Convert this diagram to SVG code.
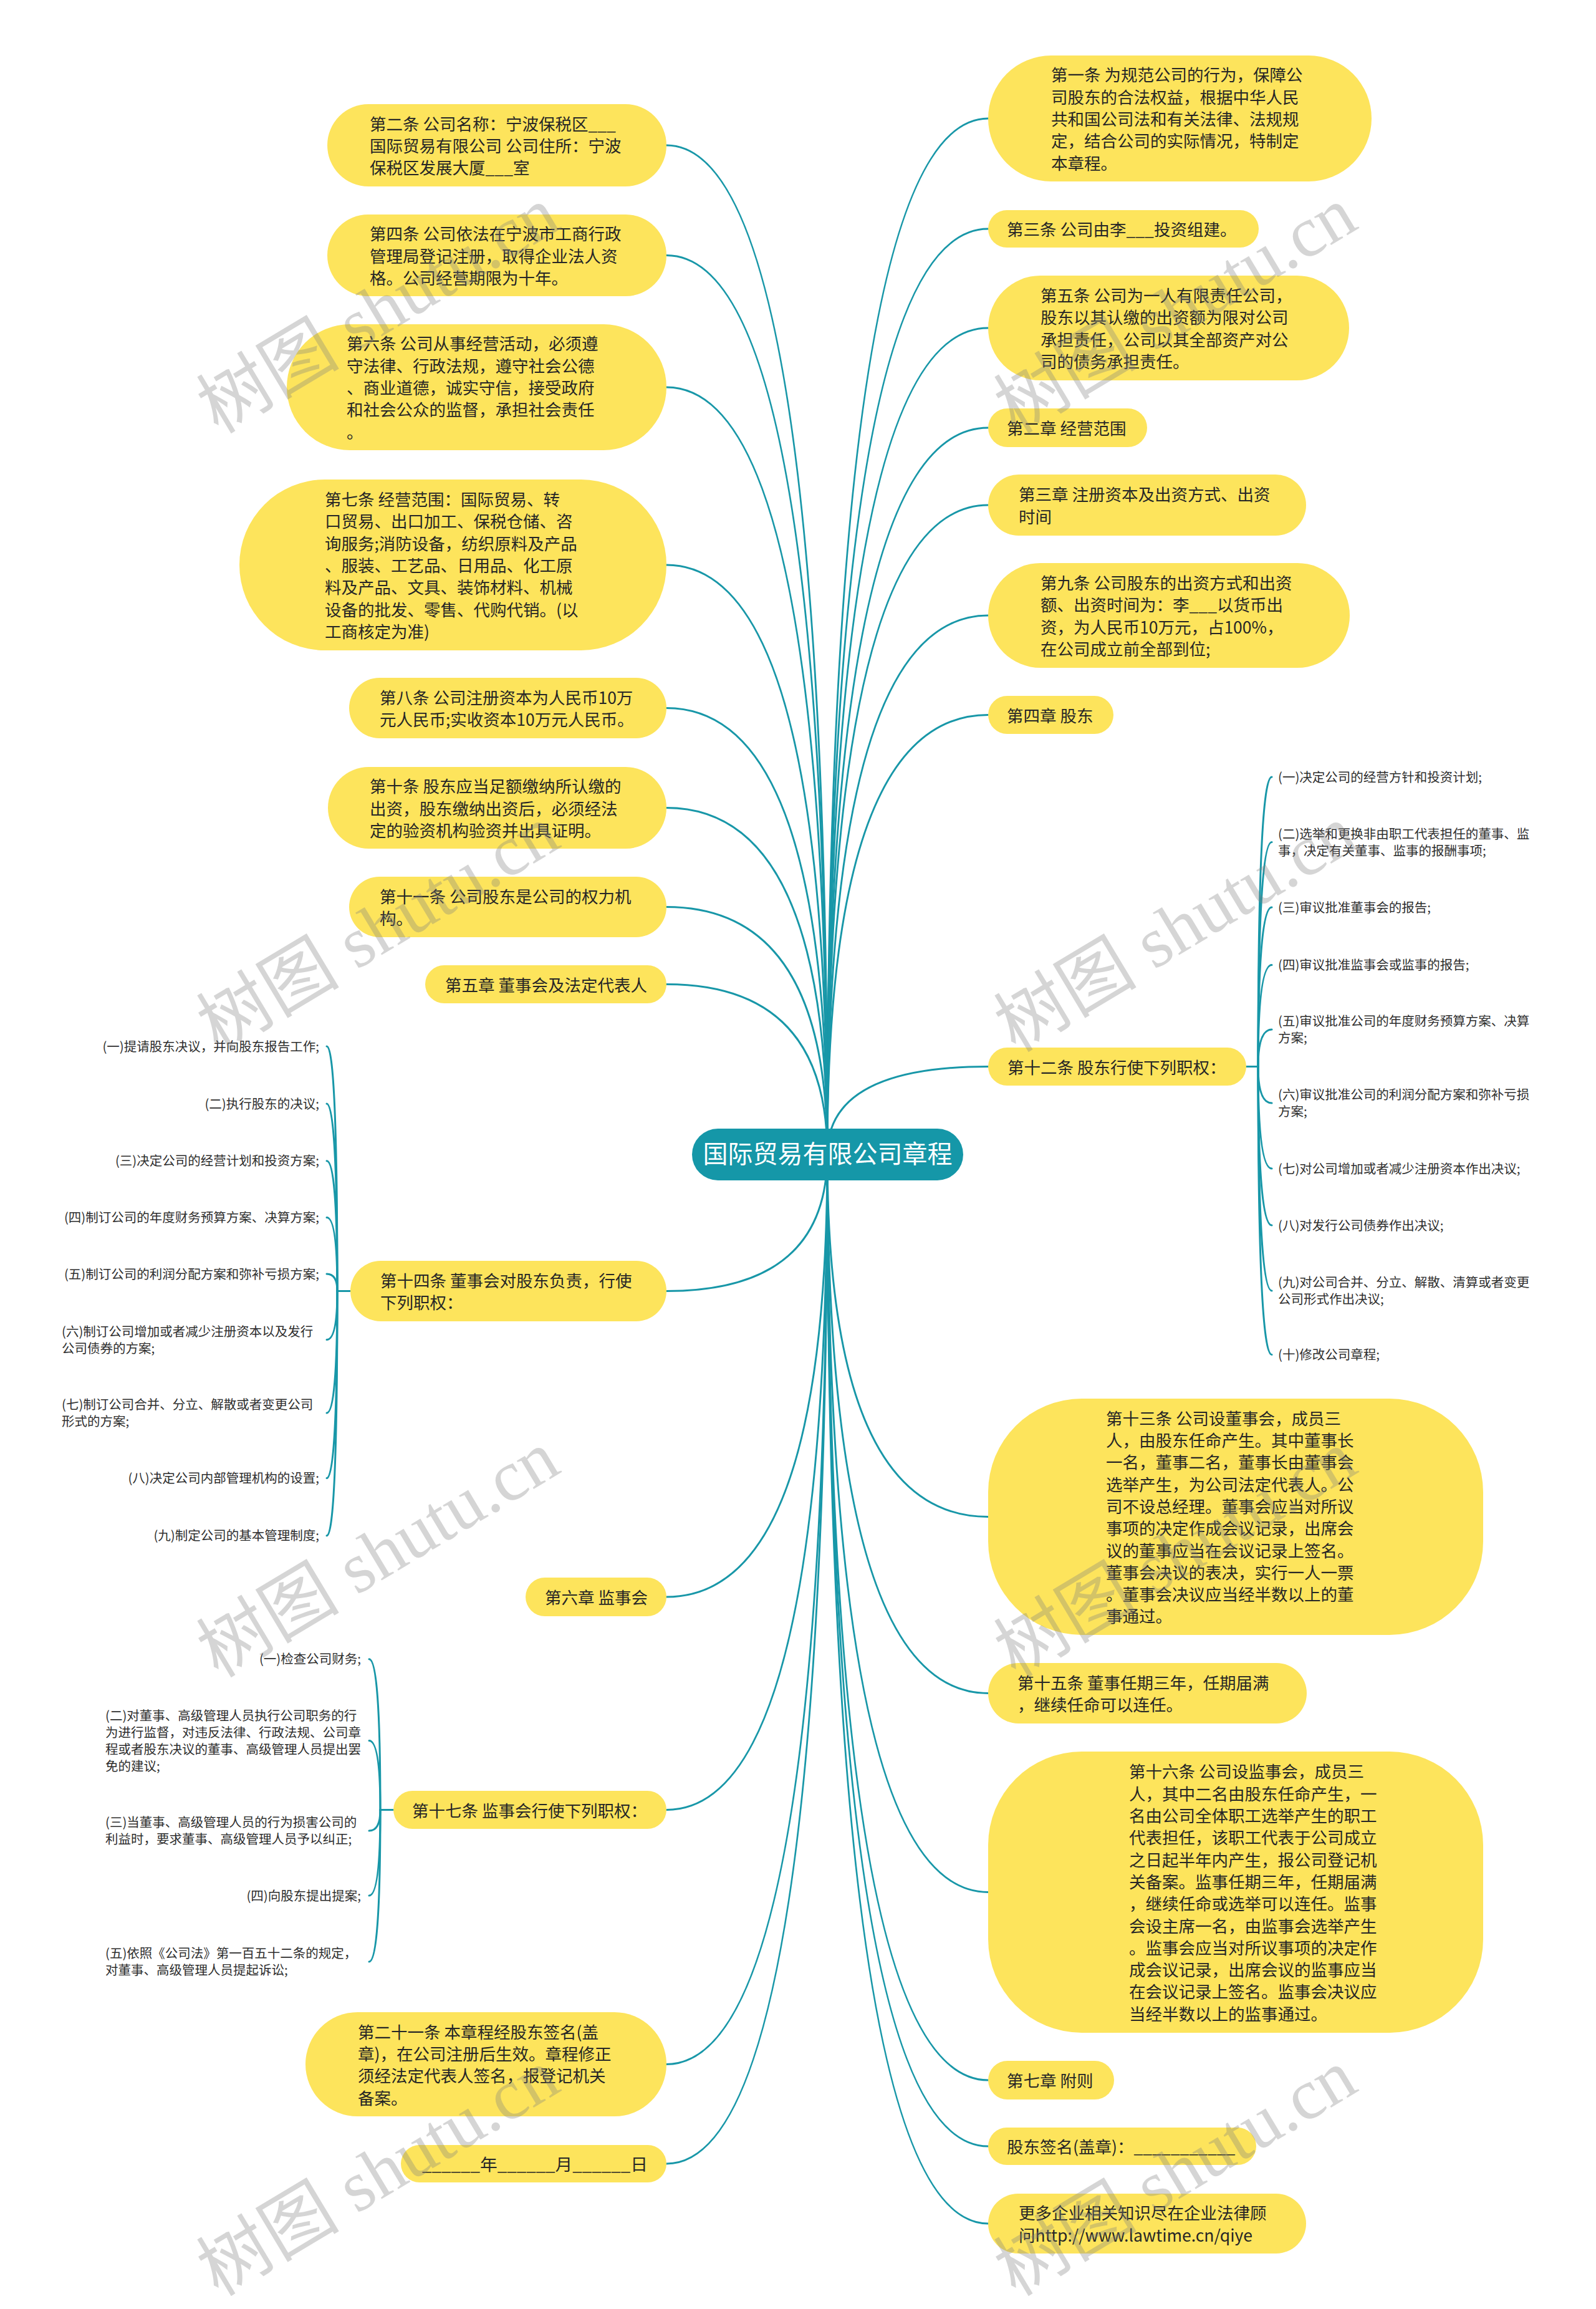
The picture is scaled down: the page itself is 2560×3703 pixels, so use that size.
<svg xmlns="http://www.w3.org/2000/svg" width="2560" height="3703" viewBox="0 0 2560 3703">
<style>
.bg{fill:#ffffff}
.node rect{fill:#fde45c}
.t{font-family:"Noto Sans CJK SC","Noto Sans",sans-serif;font-size:26.5px;fill:#262626}
.lf{font-family:"Noto Sans CJK SC","Noto Sans",sans-serif;font-size:20.5px;fill:#2e2e2e}
.lfe{text-anchor:end}
.root rect{fill:#1597a8}
.root text{font-family:"Noto Sans CJK SC","Noto Sans",sans-serif;font-size:40px;fill:#ffffff;text-anchor:middle}
.conn path{fill:none;stroke:#1897a8;stroke-width:3;stroke-linecap:round}
.wm{font-size:115px;fill:#7f7f7f;fill-opacity:0.33}
.wm .c{font-family:"Noto Sans CJK SC",sans-serif}
.wm .s{font-family:"Liberation Serif",serif}
</style>
<rect class="bg" x="0" y="0" width="2560" height="3703"/>

<g id="connectors" class="conn">
<path d="M1327 1851 Q1327 190 1585 190"/>
<path d="M1327 1851 Q1327 367 1585 367"/>
<path d="M1327 1851 Q1327 526 1585 526"/>
<path d="M1327 1851 Q1327 686 1585 686"/>
<path d="M1327 1851 Q1327 810 1585 810"/>
<path d="M1327 1851 Q1327 987 1585 987"/>
<path d="M1327 1851 Q1327 1146.5 1585 1146.5"/>
<path d="M1327 1851 Q1327 1710.5 1585 1710.5"/>
<path d="M1327 1851 Q1327 2432.5 1585 2432.5"/>
<path d="M1327 1851 Q1327 2715.5 1585 2715.5"/>
<path d="M1327 1851 Q1327 3034.5 1585 3034.5"/>
<path d="M1327 1851 Q1327 3336 1585 3336"/>
<path d="M1327 1851 Q1327 3442 1585 3442"/>
<path d="M1327 1851 Q1327 3566 1585 3566"/>
<path d="M1327 1851 Q1327 233 1069 233"/>
<path d="M1327 1851 Q1327 409.5 1069 409.5"/>
<path d="M1327 1851 Q1327 621 1069 621"/>
<path d="M1327 1851 Q1327 906 1069 906"/>
<path d="M1327 1851 Q1327 1135.5 1069 1135.5"/>
<path d="M1327 1851 Q1327 1295.5 1069 1295.5"/>
<path d="M1327 1851 Q1327 1454.5 1069 1454.5"/>
<path d="M1327 1851 Q1327 1578.5 1069 1578.5"/>
<path d="M1327 1851 Q1327 2070.5 1069 2070.5"/>
<path d="M1327 1851 Q1327 2561 1069 2561"/>
<path d="M1327 1851 Q1327 2902.5 1069 2902.5"/>
<path d="M1327 1851 Q1327 3310.5 1069 3310.5"/>
<path d="M1327 1851 Q1327 3470 1069 3470"/>
<path d="M1999 1710.5 H2018"/>
<path d="M2018 1710.5 Q2018 1246 2040 1246"/>
<path d="M2018 1710.5 Q2018 1350.5 2040 1350.5"/>
<path d="M2018 1710.5 Q2018 1455 2040 1455"/>
<path d="M2018 1710.5 Q2018 1547.6 2040 1547.6"/>
<path d="M2018 1710.5 Q2018 1651 2040 1651"/>
<path d="M2018 1710.5 Q2018 1769 2040 1769"/>
<path d="M2018 1710.5 Q2018 1874 2040 1874"/>
<path d="M2018 1710.5 Q2018 1965 2040 1965"/>
<path d="M2018 1710.5 Q2018 2070 2040 2070"/>
<path d="M2018 1710.5 Q2018 2172.6 2040 2172.6"/>
<path d="M562 2070.5 H541"/>
<path d="M541 2070.5 Q541 1678 524 1678"/>
<path d="M541 2070.5 Q541 1770 524 1770"/>
<path d="M541 2070.5 Q541 1861.7 524 1861.7"/>
<path d="M541 2070.5 Q541 1952.6 524 1952.6"/>
<path d="M541 2070.5 Q541 2043 524 2043"/>
<path d="M541 2070.5 Q541 2148.6 524 2148.6"/>
<path d="M541 2070.5 Q541 2266 524 2266"/>
<path d="M541 2070.5 Q541 2370.6 524 2370.6"/>
<path d="M541 2070.5 Q541 2462.7 524 2462.7"/>
<path d="M631 2902.5 H610"/>
<path d="M610 2902.5 Q610 2660.8 592 2660.8"/>
<path d="M610 2902.5 Q610 2791.6 592 2791.6"/>
<path d="M610 2902.5 Q610 2936 592 2936"/>
<path d="M610 2902.5 Q610 3040 592 3040"/>
<path d="M610 2902.5 Q610 3146 592 3146"/>
</g>

<g id="root" class="root">
<rect x="1110" y="1810" width="435" height="83" rx="41.5"/>
<text x="1327.5" y="1865">国际贸易有限公司章程</text>
</g>

<g id="r1" class="node"><rect x="1585" y="89" width="615" height="202" rx="101"/>
<text class="t"><tspan x="1686" y="130.4">第一条 为规范公司的行为，保障公</tspan><tspan x="1686" y="165.7">司股东的合法权益，根据中华人民</tspan><tspan x="1686" y="201">共和国公司法和有关法律、法规规</tspan><tspan x="1686" y="236.3">定，结合公司的实际情况，特制定</tspan><tspan x="1686" y="271.6">本章程。</tspan></text></g>
<g id="r2" class="node"><rect x="1585" y="337" width="434" height="60" rx="30"/>
<text class="t"><tspan x="1615" y="378">第三条 公司由李___投资组建。</tspan></text></g>
<g id="r3" class="node"><rect x="1585" y="442" width="579" height="168" rx="84"/>
<text class="t"><tspan x="1669" y="484">第五条 公司为一人有限责任公司，</tspan><tspan x="1669" y="519.4">股东以其认缴的出资额为限对公司</tspan><tspan x="1669" y="554.7">承担责任，公司以其全部资产对公</tspan><tspan x="1669" y="590">司的债务承担责任。</tspan></text></g>
<g id="r4" class="node"><rect x="1585" y="655" width="255" height="62" rx="31"/>
<text class="t"><tspan x="1615" y="697">第二章 经营范围</tspan></text></g>
<g id="r5" class="node"><rect x="1585" y="761" width="510" height="98" rx="49"/>
<text class="t"><tspan x="1634" y="803.4">第三章 注册资本及出资方式、出资</tspan><tspan x="1634" y="838.7">时间</tspan></text></g>
<g id="r6" class="node"><rect x="1585" y="903" width="580" height="168" rx="84"/>
<text class="t"><tspan x="1669" y="945">第九条 公司股东的出资方式和出资</tspan><tspan x="1669" y="980.4">额、出资时间为：李___以货币出</tspan><tspan x="1669" y="1015.7">资，为人民币10万元，占100%，</tspan><tspan x="1669" y="1051">在公司成立前全部到位;</tspan></text></g>
<g id="r7" class="node"><rect x="1585" y="1116" width="201" height="61" rx="30.5"/>
<text class="t"><tspan x="1615" y="1157.5">第四章 股东</tspan></text></g>
<g id="r8" class="node"><rect x="1585" y="1680" width="414" height="61" rx="30.5"/>
<text class="t"><tspan x="1616" y="1721.5">第十二条 股东行使下列职权：</tspan></text></g>
<g id="r9" class="node"><rect x="1585" y="2243" width="794" height="379" rx="150"/>
<text class="t"><tspan x="1774" y="2284.7">第十三条  公司设董事会，成员三</tspan><tspan x="1774" y="2320">人，由股东任命产生。其中董事长</tspan><tspan x="1774" y="2355.3">一名，董事二名，董事长由董事会</tspan><tspan x="1774" y="2390.6">选举产生，为公司法定代表人。公</tspan><tspan x="1774" y="2425.9">司不设总经理。董事会应当对所议</tspan><tspan x="1774" y="2461.2">事项的决定作成会议记录，出席会</tspan><tspan x="1774" y="2496.5">议的董事应当在会议记录上签名。</tspan><tspan x="1774" y="2531.8">董事会决议的表决，实行一人一票</tspan><tspan x="1774" y="2567.1">。董事会决议应当经半数以上的董</tspan><tspan x="1774" y="2602.4">事通过。</tspan></text></g>
<g id="r10" class="node"><rect x="1585" y="2667" width="511" height="97" rx="48.5"/>
<text class="t"><tspan x="1632" y="2708.9">第十五条 董事任期三年，任期届满</tspan><tspan x="1632" y="2744.2">，继续任命可以连任。</tspan></text></g>
<g id="r11" class="node"><rect x="1585" y="2809" width="794" height="451" rx="150"/>
<text class="t"><tspan x="1811" y="2851.4">第十六条  公司设监事会，成员三</tspan><tspan x="1811" y="2886.7">人，其中二名由股东任命产生，一</tspan><tspan x="1811" y="2922">名由公司全体职工选举产生的职工</tspan><tspan x="1811" y="2957.3">代表担任，该职工代表于公司成立</tspan><tspan x="1811" y="2992.6">之日起半年内产生，报公司登记机</tspan><tspan x="1811" y="3027.9">关备案。监事任期三年，任期届满</tspan><tspan x="1811" y="3063.2">，继续任命或选举可以连任。监事</tspan><tspan x="1811" y="3098.5">会设主席一名，由监事会选举产生</tspan><tspan x="1811" y="3133.8">。监事会应当对所议事项的决定作</tspan><tspan x="1811" y="3169.1">成会议记录，出席会议的监事应当</tspan><tspan x="1811" y="3204.4">在会议记录上签名。监事会决议应</tspan><tspan x="1811" y="3239.7">当经半数以上的监事通过。</tspan></text></g>
<g id="r12" class="node"><rect x="1585" y="3305" width="202" height="62" rx="31"/>
<text class="t"><tspan x="1615" y="3347">第七章 附则</tspan></text></g>
<g id="r13" class="node"><rect x="1585" y="3412" width="430" height="60" rx="30"/>
<text class="t"><tspan x="1615" y="3453">股东签名(盖章)：___________</tspan></text></g>
<g id="r14" class="node"><rect x="1585" y="3518" width="510" height="96" rx="48"/>
<text class="t"><tspan x="1634" y="3559.4">更多企业相关知识尽在企业法律顾</tspan><tspan x="1634" y="3594.7">问http://www.lawtime.cn/qiye</tspan></text></g>

<g id="l1" class="node"><rect x="525" y="167" width="544" height="132" rx="66"/>
<text class="t"><tspan x="593" y="208.7">第二条 公司名称：宁波保税区___</tspan><tspan x="593" y="244">国际贸易有限公司 公司住所：宁波</tspan><tspan x="593" y="279.3">保税区发展大厦___室</tspan></text></g>
<g id="l2" class="node"><rect x="525" y="344" width="544" height="131" rx="65.5"/>
<text class="t"><tspan x="593" y="385.2">第四条 公司依法在宁波市工商行政</tspan><tspan x="593" y="420.5">管理局登记注册，取得企业法人资</tspan><tspan x="593" y="455.8">格。公司经营期限为十年。</tspan></text></g>
<g id="l3" class="node"><rect x="460" y="520" width="609" height="202" rx="101"/>
<text class="t"><tspan x="556" y="561.4">第六条 公司从事经营活动，必须遵</tspan><tspan x="556" y="596.7">守法律、行政法规，遵守社会公德</tspan><tspan x="556" y="632">、商业道德，诚实守信，接受政府</tspan><tspan x="556" y="667.3">和社会公众的监督，承担社会责任</tspan><tspan x="556" y="702.6">。</tspan></text></g>
<g id="l4" class="node"><rect x="384" y="769" width="685" height="274" rx="137"/>
<text class="t"><tspan x="521" y="811.1">第七条  经营范围：国际贸易、转</tspan><tspan x="521" y="846.4">口贸易、出口加工、保税仓储、咨</tspan><tspan x="521" y="881.7">询服务;消防设备，纺织原料及产品</tspan><tspan x="521" y="917">、服装、工艺品、日用品、化工原</tspan><tspan x="521" y="952.3">料及产品、文具、装饰材料、机械</tspan><tspan x="521" y="987.6">设备的批发、零售、代购代销。(以</tspan><tspan x="521" y="1022.9">工商核定为准)</tspan></text></g>
<g id="l5" class="node"><rect x="560" y="1087" width="509" height="97" rx="48.5"/>
<text class="t"><tspan x="609" y="1128.9">第八条 公司注册资本为人民币10万</tspan><tspan x="609" y="1164.2">元人民币;实收资本10万元人民币。</tspan></text></g>
<g id="l6" class="node"><rect x="526" y="1230" width="543" height="131" rx="65.5"/>
<text class="t"><tspan x="593" y="1271.2">第十条 股东应当足额缴纳所认缴的</tspan><tspan x="593" y="1306.5">出资，股东缴纳出资后，必须经法</tspan><tspan x="593" y="1341.8">定的验资机构验资并出具证明。</tspan></text></g>
<g id="l7" class="node"><rect x="560" y="1406" width="509" height="97" rx="48.5"/>
<text class="t"><tspan x="609" y="1447.9">第十一条 公司股东是公司的权力机</tspan><tspan x="609" y="1483.2">构。</tspan></text></g>
<g id="l8" class="node"><rect x="682" y="1548" width="387" height="61" rx="30.5"/>
<text class="t"><tspan x="714" y="1589.5">第五章 董事会及法定代表人</tspan></text></g>
<g id="l9" class="node"><rect x="562" y="2022" width="507" height="97" rx="48.5"/>
<text class="t"><tspan x="610" y="2063.9">第十四条 董事会对股东负责，行使</tspan><tspan x="610" y="2099.2">下列职权：</tspan></text></g>
<g id="l10" class="node"><rect x="843" y="2530" width="226" height="62" rx="31"/>
<text class="t"><tspan x="874" y="2572">第六章 监事会</tspan></text></g>
<g id="l11" class="node"><rect x="631" y="2872" width="438" height="61" rx="30.5"/>
<text class="t"><tspan x="661" y="2913.5">第十七条 监事会行使下列职权：</tspan></text></g>
<g id="l12" class="node"><rect x="490" y="3227" width="579" height="167" rx="83.5"/>
<text class="t"><tspan x="574" y="3268.6">第二十一条 本章程经股东签名(盖</tspan><tspan x="574" y="3303.9">章)，在公司注册后生效。章程修正</tspan><tspan x="574" y="3339.2">须经法定代表人签名，报登记机关</tspan><tspan x="574" y="3374.5">备案。</tspan></text></g>
<g id="l13" class="node"><rect x="643" y="3440" width="426" height="60" rx="30"/>
<text class="t" x="677" y="3481" textLength="362" lengthAdjust="spacingAndGlyphs">______年______月______日</text></g>

<g id="r8-leaves">
<text id="r8a" class="lf"><tspan x="2050" y="1253.5">(一)决定公司的经营方针和投资计划;</tspan></text>
<text id="r8b" class="lf"><tspan x="2050" y="1344.5">(二)选举和更换非由职工代表担任的董事、监</tspan><tspan x="2050" y="1371.5">事，决定有关董事、监事的报酬事项;</tspan></text>
<text id="r8c" class="lf"><tspan x="2050" y="1462.5">(三)审议批准董事会的报告;</tspan></text>
<text id="r8d" class="lf"><tspan x="2050" y="1555">(四)审议批准监事会或监事的报告;</tspan></text>
<text id="r8e" class="lf"><tspan x="2050" y="1645">(五)审议批准公司的年度财务预算方案、决算</tspan><tspan x="2050" y="1672">方案;</tspan></text>
<text id="r8f" class="lf"><tspan x="2050" y="1763">(六)审议批准公司的利润分配方案和弥补亏损</tspan><tspan x="2050" y="1790">方案;</tspan></text>
<text id="r8g" class="lf"><tspan x="2050" y="1881.5">(七)对公司增加或者减少注册资本作出决议;</tspan></text>
<text id="r8h" class="lf"><tspan x="2050" y="1972.5">(八)对发行公司债券作出决议;</tspan></text>
<text id="r8i" class="lf"><tspan x="2050" y="2064">(九)对公司合并、分立、解散、清算或者变更</tspan><tspan x="2050" y="2091">公司形式作出决议;</tspan></text>
<text id="r8j" class="lf"><tspan x="2050" y="2180">(十)修改公司章程;</tspan></text>
</g>

<g id="l9-leaves">
<text id="l9a" class="lf lfe"><tspan x="512" y="1685.5">(一)提请股东决议，并向股东报告工作;</tspan></text>
<text id="l9b" class="lf lfe"><tspan x="512" y="1777.5">(二)执行股东的决议;</tspan></text>
<text id="l9c" class="lf lfe"><tspan x="512" y="1869">(三)决定公司的经营计划和投资方案;</tspan></text>
<text id="l9d" class="lf lfe"><tspan x="512" y="1960">(四)制订公司的年度财务预算方案、决算方案;</tspan></text>
<text id="l9e" class="lf lfe"><tspan x="512" y="2050.5">(五)制订公司的利润分配方案和弥补亏损方案;</tspan></text>
<text id="l9f" class="lf"><tspan x="99" y="2142.6">(六)制订公司增加或者减少注册资本以及发行</tspan><tspan x="99" y="2169.6">公司债券的方案;</tspan></text>
<text id="l9g" class="lf"><tspan x="99" y="2260">(七)制订公司合并、分立、解散或者变更公司</tspan><tspan x="99" y="2287">形式的方案;</tspan></text>
<text id="l9h" class="lf lfe"><tspan x="512" y="2378">(八)决定公司内部管理机构的设置;</tspan></text>
<text id="l9i" class="lf lfe"><tspan x="512" y="2470">(九)制定公司的基本管理制度;</tspan></text>
</g>

<g id="l11-leaves">
<text id="l11a" class="lf lfe"><tspan x="579" y="2668.3">(一)检查公司财务;</tspan></text>
<text id="l11b" class="lf"><tspan x="169" y="2758.6">(二)对董事、高级管理人员执行公司职务的行</tspan><tspan x="169" y="2785.6">为进行监督，对违反法律、行政法规、公司章</tspan><tspan x="169" y="2812.6">程或者股东决议的董事、高级管理人员提出罢</tspan><tspan x="169" y="2839.6">免的建议;</tspan></text>
<text id="l11c" class="lf"><tspan x="169" y="2930">(三)当董事、高级管理人员的行为损害公司的</tspan><tspan x="169" y="2957">利益时，要求董事、高级管理人员予以纠正;</tspan></text>
<text id="l11d" class="lf lfe"><tspan x="579" y="3047.5">(四)向股东提出提案;</tspan></text>
<text id="l11e" class="lf"><tspan x="169" y="3140">(五)依照《公司法》第一百五十二条的规定，</tspan><tspan x="169" y="3167">对董事、高级管理人员提起诉讼;</tspan></text>
</g>

<g id="watermarks" class="wm">
<text transform="translate(350 697) rotate(-31)"><tspan class="c">树图</tspan><tspan class="s"> shutu.cn</tspan></text>
<text transform="translate(1629 697) rotate(-31)"><tspan class="c">树图</tspan><tspan class="s"> shutu.cn</tspan></text>
<text transform="translate(350 1689) rotate(-31)"><tspan class="c">树图</tspan><tspan class="s"> shutu.cn</tspan></text>
<text transform="translate(1629 1689) rotate(-31)"><tspan class="c">树图</tspan><tspan class="s"> shutu.cn</tspan></text>
<text transform="translate(350 2692) rotate(-31)"><tspan class="c">树图</tspan><tspan class="s"> shutu.cn</tspan></text>
<text transform="translate(1629 2692) rotate(-31)"><tspan class="c">树图</tspan><tspan class="s"> shutu.cn</tspan></text>
<text transform="translate(350 3684) rotate(-31)"><tspan class="c">树图</tspan><tspan class="s"> shutu.cn</tspan></text>
<text transform="translate(1629 3684) rotate(-31)"><tspan class="c">树图</tspan><tspan class="s"> shutu.cn</tspan></text>
</g>
</svg>
